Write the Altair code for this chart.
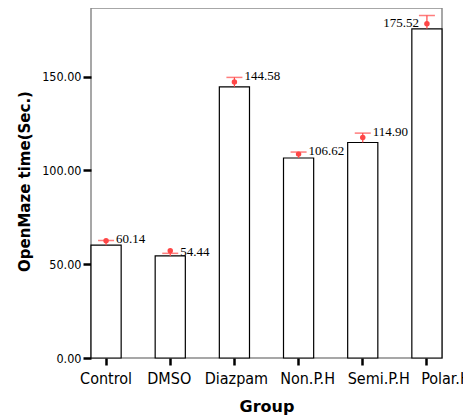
import altair as alt
import pandas as pd

groups = ["Control", "DMSO", "Diazpam", "Non.P.H", "Semi.P.H", "Polar.H"]
means = [60.14, 54.44, 144.58, 106.62, 114.90, 175.52]
err_upper = [62.7, 55.8, 149.6, 109.8, 119.9, 182.6]
markers = [62.5, 57.2, 147.1, 108.7, 117.6, 178.2]
mean_labels = ["60.14", "54.44", "144.58", "106.62", "114.90", "175.52"]
y_ticks = [0, 50, 100, 150]

df = pd.DataFrame({
    "group": groups,
    "mean": means,
    "upper": err_upper,
    "marker": markers,
    "label": mean_labels,
})

RED = "#ff4646"

label_shift = {"DMSO": -1, "Diazpam": 2, "Non.P.H": 9, "Semi.P.H": 16, "Polar.H": 19}

x_enc = alt.X(
    "group:N",
    sort=groups,
    scale=alt.Scale(paddingInner=0.53, paddingOuter=0),
    axis=alt.Axis(
        title="Group",
        titleFont="DejaVu Sans",
        titleFontWeight="bold",
        titleFontSize=16,
        titleColor="black",
        titleY=53,
        titleBaseline="alphabetic",
        labelAngle=0,
        labelFont="DejaVu Sans Condensed",
        labelFontSize=16,
        labelColor="black",
        labelPadding=5,
        tickSize=7,
        tickWidth=2.5,
        tickColor="black",
        domain=False,
        grid=False,
        labelOffset={
            "condition": [
                {"test": f"datum.value === '{k}'", "value": v}
                for k, v in label_shift.items()
            ],
            "value": 0,
        },
    ),
)

y_scale = alt.Scale(domain=[0, 186.6], nice=False, zero=True)
y_axis = alt.Axis(
    title="OpenMaze time(Sec.)",
    titleFont="DejaVu Sans",
    titleFontWeight="bold",
    titleFontSize=15,
    titleColor="black",
    titleX=-62,
    titleY=173,
    titleBaseline="alphabetic",
    values=y_ticks,
    format=".2f",
    labelFont="DejaVu Sans Condensed",
    labelFontSize=12.5,
    labelColor="black",
    labelPadding=2,
    tickSize=8,
    tickWidth=2.5,
    tickColor="black",
    domain=False,
    grid=False,
)

base = alt.Chart(df).encode(x=x_enc)

bars = base.mark_bar(fill="white", stroke="black", strokeWidth=1.2).encode(
    y=alt.Y("mean:Q", scale=y_scale, axis=y_axis)
)

rules = base.mark_rule(color=RED, strokeWidth=1.2).encode(
    y=alt.Y("mean:Q", scale=y_scale, axis=y_axis), y2="upper:Q"
)

caps = base.mark_tick(color=RED, thickness=1.5, size=16).encode(
    y=alt.Y("upper:Q", scale=y_scale, axis=y_axis)
)

dots = base.mark_point(filled=True, shape="circle", size=30, color=RED, opacity=1).encode(
    y=alt.Y("marker:Q", scale=y_scale, axis=y_axis)
)

labels_right = base.transform_filter("datum.group !== 'Polar.H'").mark_text(
    align="left", baseline="middle", dx=10, dy=-1,
    font="Liberation Serif", fontSize=13, color="black"
).encode(
    y=alt.Y("upper:Q", scale=y_scale, axis=y_axis), text="label:N"
)

labels_left = base.transform_filter("datum.group === 'Polar.H'").mark_text(
    align="right", baseline="middle", dx=-8, dy=7,
    font="Liberation Serif", fontSize=13, color="black"
).encode(
    y=alt.Y("upper:Q", scale=y_scale, axis=y_axis), text="label:N"
)

chart = alt.layer(bars, rules, caps, dots, labels_right, labels_left).properties(
    width=351,
    height=350,
    autosize=alt.AutoSizeParams(type="none"),
    padding={"left": 83, "top": 0, "right": 21, "bottom": 57},
    background="white",
).configure_view(
    stroke="#8a8a8a", strokeWidth=1.5
)

chart.save("out.html", embed_options={"renderer": "svg", "actions": False})
